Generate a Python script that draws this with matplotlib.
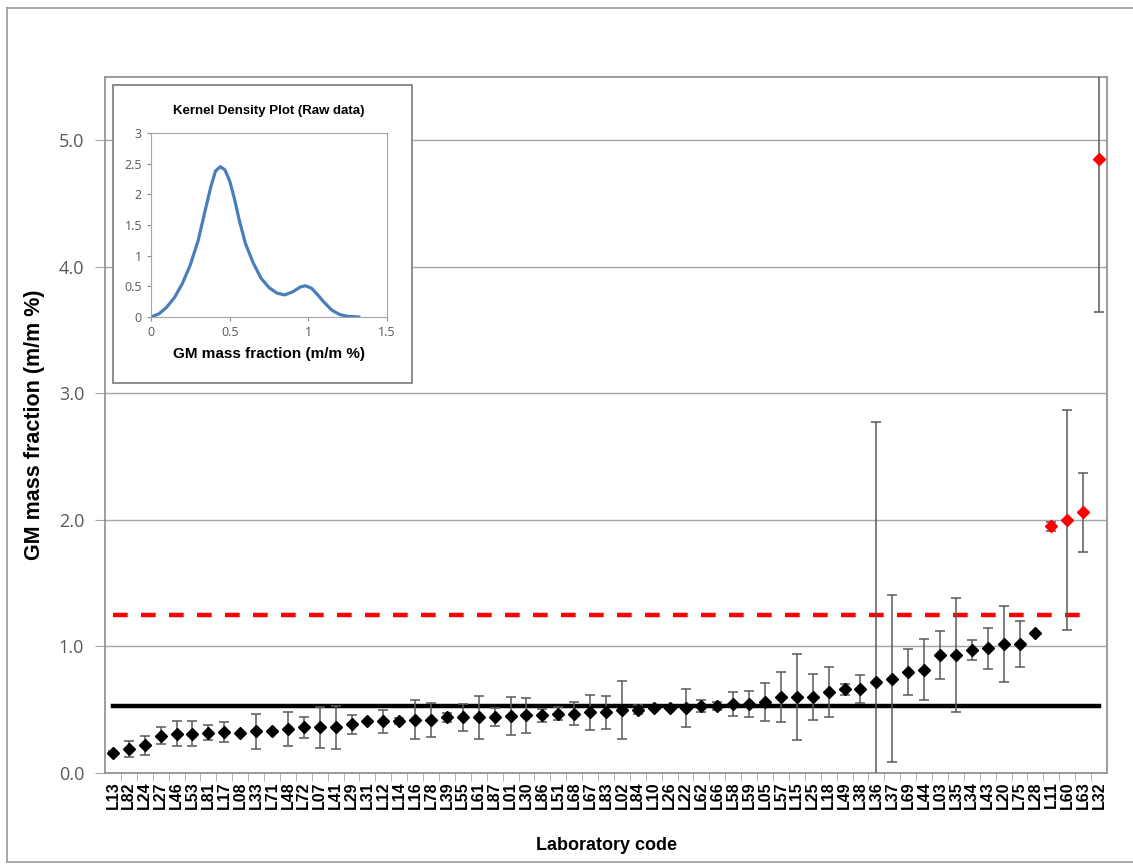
import numpy as np
import matplotlib.pyplot as plt
from matplotlib.lines import Line2D
from matplotlib.patches import Rectangle

labs = ["L13", "L82", "L24", "L27", "L46", "L53", "L81", "L17", "L08", "L33",
        "L71", "L48", "L72", "L07", "L41", "L29", "L31", "L12", "L14", "L16",
        "L78", "L39", "L55", "L61", "L87", "L01", "L30", "L86", "L51", "L68",
        "L67", "L83", "L02", "L84", "L10", "L26", "L22", "L62", "L66", "L58",
        "L59", "L05", "L57", "L15", "L25", "L18", "L49", "L38", "L36", "L37",
        "L69", "L44", "L03", "L35", "L34", "L43", "L20", "L75", "L28", "L11",
        "L60", "L63", "L32"]

vals = [0.16, 0.19, 0.22, 0.295, 0.31, 0.31, 0.32, 0.325, 0.32, 0.33,
        0.33, 0.35, 0.36, 0.36, 0.36, 0.385, 0.41, 0.41, 0.41, 0.42,
        0.42, 0.44, 0.44, 0.44, 0.44, 0.45, 0.455, 0.455, 0.47, 0.47,
        0.48, 0.48, 0.50, 0.50, 0.51, 0.51, 0.51, 0.53, 0.53, 0.545,
        0.545, 0.56, 0.60, 0.60, 0.60, 0.64, 0.66, 0.665, 0.72, 0.745,
        0.80, 0.815, 0.935, 0.935, 0.97, 0.985, 1.02, 1.02, 1.105, 1.95,
        2.00, 2.06, 4.85]

errs = [0.01, 0.065, 0.075, 0.065, 0.10, 0.10, 0.06, 0.08, 0.0, 0.14,
        0.0, 0.135, 0.08, 0.165, 0.17, 0.075, 0.0, 0.09, 0.025, 0.155,
        0.135, 0.035, 0.105, 0.17, 0.07, 0.15, 0.14, 0.05, 0.055, 0.09,
        0.14, 0.13, 0.23, 0.035, 0.0, 0.0, 0.15, 0.05, 0.035, 0.095,
        0.10, 0.15, 0.20, 0.34, 0.18, 0.20, 0.04, 0.11, 2.05, 0.66,
        0.18, 0.24, 0.19, 0.45, 0.08, 0.16, 0.30, 0.18, 0.0, 0.035,
        0.87, 0.31, 1.21]

outliers = ["L11", "L60", "L63", "L32"]

assigned = 0.53
upper_limit = 1.25

# kernel density curve (inset)
kde_x = [0, 0.05, 0.1, 0.15, 0.2, 0.25, 0.3, 0.35, 0.38, 0.41, 0.44, 0.47,
         0.5, 0.53, 0.56, 0.6, 0.65, 0.7, 0.75, 0.8, 0.85, 0.9, 0.95, 0.98,
         1.02, 1.06, 1.1, 1.15, 1.2, 1.25, 1.32]
kde_y = [0, 0.05, 0.16, 0.32, 0.55, 0.85, 1.25, 1.80, 2.12, 2.38, 2.45, 2.40,
         2.22, 1.93, 1.59, 1.20, 0.88, 0.63, 0.48, 0.39, 0.36, 0.41, 0.49, 0.51,
         0.47, 0.36, 0.24, 0.11, 0.04, 0.01, 0.0]

grey = "#595959"
narrow = ["Liberation Sans Narrow", "Liberation Sans", "DejaVu Sans"]

fig = plt.figure(figsize=(11.33, 8.65), dpi=100)

# outer frame of the picture
fig.add_artist(Line2D([7/1133, 1.01], [1 - 8/865] * 2, color="#9a9a9a", lw=1.2))
fig.add_artist(Line2D([7/1133] * 2, [3/865, 1 - 8/865], color="#9a9a9a", lw=1.2))
fig.add_artist(Line2D([7/1133, 1.01], [3/865] * 2, color="#9a9a9a", lw=1.2))

ax = fig.add_axes([105/1133, 92/865, 1002/1133, 696/865])

x = np.arange(len(labs))
vals = np.array(vals)
errs = np.array(errs)
is_out = np.isin(labs, outliers)

ax.errorbar(x, vals, yerr=errs, fmt="none", ecolor=grey, elinewidth=1.1,
            capsize=3.5, capthick=1.1, zorder=3)
ax.plot(x[~is_out], vals[~is_out], "D", color="black", ms=6.3, zorder=4)
ax.plot(x[is_out], vals[is_out], "D", color="#ff0000", ms=6.3, zorder=4)

ax.plot([0, len(labs) - 1], [assigned] * 2, color="black", lw=3.2, zorder=2)
ax.plot([0, len(labs) - 1.4], [upper_limit] * 2, color="#ff0000", lw=3.2,
        ls=(0, (3.3, 3.0)), zorder=2)

ax.set_xlim(-0.5, len(labs) - 0.5)
ax.set_ylim(0, 5.5)
ax.set_yticks([0, 1, 2, 3, 4, 5])
ax.set_yticklabels(["0.0", "1.0", "2.0", "3.0", "4.0", "5.0"],
                   fontsize=13, color=grey, family=["Open Sans", "DejaVu Sans"])
ax.grid(axis="y", color="#a6a6a6", lw=1.0)
ax.set_axisbelow(True)

ax.set_xticks(x)
ax.set_xticklabels(labs, rotation=90, fontsize=11.5, fontweight="bold", family=narrow)
ax.set_xticks(x[:-1] + 0.5, minor=True)
ax.tick_params(axis="x", which="major", length=0, pad=6)
ax.tick_params(axis="x", which="minor", length=6, color="#a6a6a6")
ax.tick_params(axis="y", length=7, color="#a6a6a6", pad=8)

for s in ax.spines.values():
    s.set_color("#8c8c8c")
    s.set_linewidth(1.2)

ax.set_xlabel("Laboratory code", fontsize=13, fontweight="bold",
              family=["Liberation Sans", "DejaVu Sans"], labelpad=20)
ax.set_ylabel("GM mass fraction (m/m %)", fontsize=15.5, fontweight="bold",
              family=narrow, labelpad=10)

# inset frame
fig.add_artist(Rectangle((113/1133, 1 - 383/865), 299/1133, 298/865,
                         transform=fig.transFigure, fill=True, fc="white",
                         ec="#8c8c8c", lw=1.4, zorder=5))

ins = fig.add_axes([151/1133, 1 - 317/865, 236/1133, 184/865], zorder=6)
ins.plot(kde_x, kde_y, color="#4a7ebb", lw=2.3)
ins.set_xlim(0, 1.5)
ins.set_ylim(0, 3)
ins.set_xticks([0, 0.5, 1, 1.5])
ins.set_xticklabels(["0", "0.5", "1", "1.5"])
ins.set_yticks([0, 0.5, 1, 1.5, 2, 2.5, 3])
ins.set_yticklabels(["0", "0.5", "1", "1.5", "2", "2.5", "3"])
ins.tick_params(labelsize=9, labelcolor=grey, length=3, color="#8c8c8c")
for lab in ins.get_xticklabels() + ins.get_yticklabels():
    lab.set_family(["Open Sans", "DejaVu Sans"])
for s in ins.spines.values():
    s.set_color("#a6a6a6")
ins.set_title("Kernel Density Plot (Raw data)", fontsize=9.5, fontweight="bold",
              family=["Liberation Sans", "DejaVu Sans"], pad=14)
ins.set_xlabel("GM mass fraction (m/m %)", fontsize=11, fontweight="bold",
               family=["Liberation Sans", "DejaVu Sans"], labelpad=6)

fig.savefig("out.png", dpi=100)
